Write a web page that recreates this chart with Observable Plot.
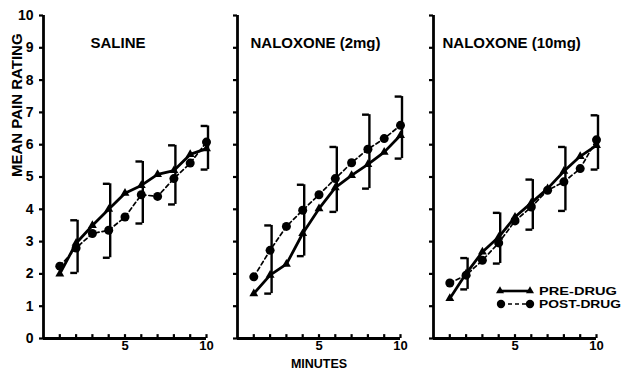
<!DOCTYPE html>
<html><head><meta charset="utf-8">
<script src="https://cdn.jsdelivr.net/npm/d3@7"></script>
<script src="https://cdn.jsdelivr.net/npm/@observablehq/plot@0.6"></script>
<style>
body{margin:0;background:#fff;}
#chart{position:relative;width:622px;height:369px;overflow:hidden;background:#fff;}
#chart > svg{position:absolute;top:0;left:0;}
</style></head><body><div id="chart"></div>
<script>
// ---- data ----
const minutes = [1, 2, 3, 4, 5, 6, 7, 8, 9, 10];
const errMinutes = [2, 4, 6, 8, 10];
const titles = ["SALINE", "NALOXONE (2mg)", "NALOXONE (10mg)"];
const seriesNames = ["PRE-DRUG", "POST-DRUG"];
const yTicks = [0, 1, 2, 3, 4, 5, 6, 7, 8, 9, 10];
const xTickLabels = [5, 10];
const yLabel = "MEAN PAIN RATING";
const xLabel = "MINUTES";

const salinePre  = [2.0, 2.95, 3.5, 4.0, 4.5, 4.74, 5.08, 5.2, 5.7, 5.88];
const salinePost = [2.24, 2.8, 3.25, 3.35, 3.76, 4.45, 4.4, 4.95, 5.43, 6.08];
const salineErrLow  = [2.03, 2.5, 3.56, 4.15, 5.23];
const salineErrHigh = [3.66, 4.79, 5.48, 5.98, 6.58];

const nal2Pre  = [1.39, 1.96, 2.3, 3.25, 4.02, 4.67, 5.05, 5.39, 5.77, 6.29];
const nal2Post = [1.91, 2.73, 3.47, 3.97, 4.45, 4.95, 5.44, 5.86, 6.19, 6.6];
const nal2ErrLow  = [1.39, 2.55, 3.92, 4.64, 5.57];
const nal2ErrHigh = [3.5, 4.76, 5.93, 6.93, 7.49];

const nal10Pre  = [1.24, 2.01, 2.68, 3.14, 3.76, 4.2, 4.64, 5.18, 5.64, 5.98];
const nal10Post = [1.72, 1.96, 2.42, 2.96, 3.64, 4.07, 4.59, 4.85, 5.26, 6.15];
const nal10ErrLow  = [1.52, 2.32, 3.37, 3.95, 5.23];
const nal10ErrHigh = [2.49, 3.89, 4.92, 5.93, 6.91];

const panels = [
  {title: titles[0], pre: salinePre, post: salinePost, lo: salineErrLow, hi: salineErrHigh},
  {title: titles[1], pre: nal2Pre, post: nal2Post, lo: nal2ErrLow, hi: nal2ErrHigh},
  {title: titles[2], pre: nal10Pre, post: nal10Post, lo: nal10ErrLow, hi: nal10ErrHigh}
];

// ---- layout ----
const FONT = "'Liberation Sans', Arial, Helvetica, sans-serif";
const axisLeft = [43, 237, 433];
const titleDx = [47, 13, 9];
const panelW = 163;
const chart = document.getElementById("chart");

panels.forEach((p, i) => {
  const pre = minutes.map((m, k) => ({x: m, y: p.pre[k]}));
  const post = minutes.map((m, k) => ({x: m, y: p.post[k]}));
  const err = errMinutes.map((m, k) => ({x: m, lo: p.lo[k], hi: p.hi[k]}));
  const serif = 0.42;
  const marks = [
    Plot.ruleX([0], {y1: 0, y2: 10, strokeWidth: 2.8}),
    Plot.ruleY([0], {x1: 0, x2: 10, strokeWidth: 2.8}),
    Plot.ruleX(minutes, {x: d => d, y1: 0, y2: 0.12, strokeWidth: 2.2}),
    Plot.axisY({ticks: yTicks, tickSize: 4, tickPadding: 6, strokeWidth: 2.2,
      tickFormat: i === 0 ? d => d : () => "", label: null, fontSize: 14, fontWeight: "bold"}),
    Plot.axisX({ticks: xTickLabels, tickSize: 0, tickPadding: 2, label: null, fontSize: 13, fontWeight: "bold"}),
    // brackets
    Plot.ruleX(err, {x: "x", y1: "lo", y2: "hi", dx: 1.5, strokeWidth: 2.4}),
    Plot.ruleY(err, {y: "hi", x1: d => d.x - serif, x2: "x", dx: 1.5, strokeWidth: 2.4}),
    Plot.ruleY(err, {y: "lo", x1: d => d.x - serif, x2: "x", dx: 1.5, strokeWidth: 2.4}),
    // post-drug
    Plot.line(post, {x: "x", y: "y", stroke: "black", strokeWidth: 1.7, strokeDasharray: "4,3"}),
    Plot.dot(post, {x: "x", y: "y", r: 4.5, fill: "black", stroke: "none"}),
    // pre-drug
    Plot.line(pre, {x: "x", y: "y", stroke: "black", strokeWidth: 2.8}),
    Plot.dot(pre, {x: "x", y: "y", symbol: "triangle", r: 3.3, fill: "black", stroke: "none"}),
    Plot.text([p.title], {frameAnchor: "top-left", dx: titleDx[i], dy: 28, textAnchor: "start",
      lineAnchor: "middle", fontSize: 15, fontWeight: "bold"})
  ];
  if (i === 0) marks.push(Plot.text([yLabel], {frameAnchor: "left", rotate: -90, dx: -26,
    fontSize: 15, fontWeight: "bold"}));
  if (i === 1) marks.push(Plot.text([xLabel], {frameAnchor: "bottom", dy: 25, lineAnchor: "middle",
    fontSize: 12.5, fontWeight: "bold"}));
  const svg = Plot.plot({
    width: axisLeft[i] + panelW + 14,
    height: 369,
    marginLeft: axisLeft[i],
    marginRight: 14,
    marginTop: 15,
    marginBottom: 31,
    x: {domain: [0, 10]},
    y: {domain: [0, 10]},
    style: {fontFamily: FONT, background: "transparent", overflow: "visible", color: "black"},
    marks
  });
  chart.appendChild(svg);
});

// ---- legend (inside third panel) ----
const leg = d3.select(chart).append("svg")
  .attr("width", 622).attr("height", 369)
  .style("font-family", FONT).style("pointer-events", "none");
const ly = [291, 304];
const g0 = leg.append("g");
g0.append("line").attr("x1", 500).attr("x2", 530).attr("y1", ly[0]).attr("y2", ly[0])
  .attr("stroke", "black").attr("stroke-width", 2.6);
[500, 530].forEach(x => g0.append("path").attr("d", d3.symbol(d3.symbolTriangle, 28)())
  .attr("transform", `translate(${x},${ly[0]})`).attr("fill", "black"));
const g1 = leg.append("g");
g1.append("line").attr("x1", 501).attr("x2", 530).attr("y1", ly[1]).attr("y2", ly[1])
  .attr("stroke", "black").attr("stroke-width", 1.6).attr("stroke-dasharray", "4,3");
[501, 530].forEach(x => g1.append("circle").attr("cx", x).attr("cy", ly[1]).attr("r", 4.2).attr("fill", "black"));
const legLen = [78, 82];
seriesNames.forEach((s, k) => {
  leg.append("text").attr("x", 539).attr("y", ly[k]).attr("dy", "0.36em")
    .attr("font-size", 11.5).attr("font-weight", "bold")
    .attr("textLength", legLen[k]).attr("lengthAdjust", "spacingAndGlyphs").text(s);
});
</script></body></html>
